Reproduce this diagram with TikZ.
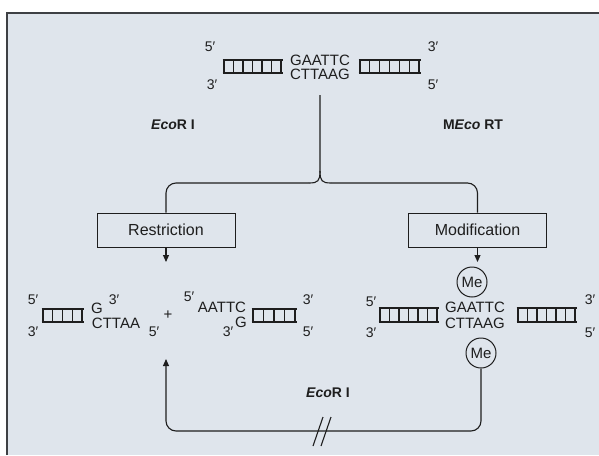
\documentclass[tikz,border=0pt]{standalone}
\usepackage{fontspec}
\setmainfont{Liberation Sans}
\usetikzlibrary{arrows.meta}

\definecolor{panel}{RGB}{223,229,236}
\definecolor{rule}{RGB}{62,64,68}
\definecolor{ink}{RGB}{30,30,30}

% double-strand ladder: left x, right x, top y, bottom y, number of segments
\newcommand{\dnaladder}[5]{%
  \draw[ladder] (#1-1.5,#3) -- (#2+1.5,#3) (#1-1.5,#4) -- (#2+1.5,#4);
  \foreach \k in {0,...,#5}
    \draw[ladder] ({#1+(#2-#1)*\k/#5},#3) -- ({#1+(#2-#1)*\k/#5},#4);
}

\begin{document}
\begin{tikzpicture}[x=1pt,y=-1pt,
  ladder/.style={draw=ink, line width=1.1},
  dna/.style={font=\fontsize{15}{15}\selectfont, text=ink, inner sep=0},
  prime/.style={font=\fontsize{14}{14}\selectfont, text=ink, inner sep=0},
  stepbox/.style={draw=ink, line width=1, fill=panel, minimum width=138,
    minimum height=34, inner sep=0, font=\fontsize{16}{16}\selectfont, text=ink},
  enz/.style={font=\bfseries\fontsize{14}{14}\selectfont, text=ink, inner sep=0},
  methyl/.style={circle, draw=ink, line width=1, inner sep=0, minimum size=30,
    font=\fontsize{15}{15}\selectfont, text=ink},
  conn/.style={draw=ink, line width=1.1},
  tip/.style={-{Triangle[length=7,width=6]}}]

\useasboundingbox (0,0) rectangle (599,455);
\fill[white] (0,0) rectangle (599,455);
\fill[panel] (7,13) rectangle (599,455);
\draw[rule, line width=2] (7,455) -- (7,13) -- (599,13);

% ---- substrate: recognition site ----
\node[prime] (s5l) at (210,47) {5′};
\node[prime] (s3l) at (212,85) {3′};
\dnaladder{224}{281}{60}{73}{6}
\node[dna] (stop) at (320,60) {GAATTC};
\node[dna] (sbot) at (320,74) {CTTAAG};
\dnaladder{360}{419}{60}{73}{6}
\node[prime] (s3r) at (433,47) {3′};
\node[prime] (s5r) at (433,85) {5′};

% ---- enzyme names ----
\node[enz] (eco) at (173,125) {\textit{Eco}R I};
\node[enz] (meco) at (473,125) {M\textit{Eco} RT};

% ---- the two pathways ----
\node[stepbox] (res) at (166,230) {Restriction};
\node[stepbox] (mod) at (477.5,230) {Modification};

\coordinate (stem) at (320,95);
\draw[conn] (stem) -- (320,171) .. controls (320,181) and (322,183) .. (331,183);
\draw[conn] (320,171) .. controls (320,181) and (318,183) .. (309,183);
\draw[conn, rounded corners=10] (331,183) -- (mod.north |- 0,183) -- (mod.north);
\draw[conn, rounded corners=10] (309,183) -- (res.north |- 0,183) -- (res.north);

\coordinate (resend) at (166,262);
\coordinate (modend) at (477.5,262);
\draw[conn, tip] (res.south) -- (resend);
\draw[conn, tip] (mod.south) -- (modend);

% ---- cleaved products ----
\node[prime] (a5) at (33,300) {5′};
\node[prime] (a3) at (33,332) {3′};
\dnaladder{43}{82}{309}{322}{4}
\node[dna] (aG) at (97,308) {G};
\node[prime] (aG3) at (114,300) {3′};
\node[dna] (aC) at (116,323) {CTTAA};
\node[prime] (aC5) at (154,332) {5′};
\node[dna] (plus) at (168,315) {+};
\node[prime] (b5) at (189,297) {5′};
\node[dna] (bA) at (222,307) {AATTC};
\node[prime] (b3) at (228,332) {3′};
\node[dna] (bG) at (241,322) {G};
\dnaladder{253}{295}{309}{322}{4}
\node[prime] (b3r) at (308,300) {3′};
\node[prime] (b5r) at (308,332) {5′};

% ---- methylated site ----
\node[methyl] (me1) at (472,282) {Me};
\node[prime] (m5) at (371,302) {5′};
\node[prime] (m3) at (371,333) {3′};
\dnaladder{380}{437}{308}{322}{6}
\node[dna] (mtop) at (475,307) {GAATTC};
\node[dna] (mbot) at (475,323) {CTTAAG};
\dnaladder{518}{575}{308}{322}{6}
\node[prime] (m3r) at (590,300) {3′};
\node[prime] (m5r) at (590,333) {5′};
\node[methyl] (me2) at (481,353) {Me};

% ---- blocked cleavage ----
\node[enz] (ecob) at (328,393) {\textit{Eco}R I};
\coordinate (resprod) at (166,359);
\draw[conn, tip, rounded corners=10] (me2.south) -- (me2.south |- 0,431) -- (166,431) -- (resprod);
\draw[conn] (313,446) -- (323,417);
\draw[conn] (321,446) -- (331,417);

\end{tikzpicture}
\end{document}
